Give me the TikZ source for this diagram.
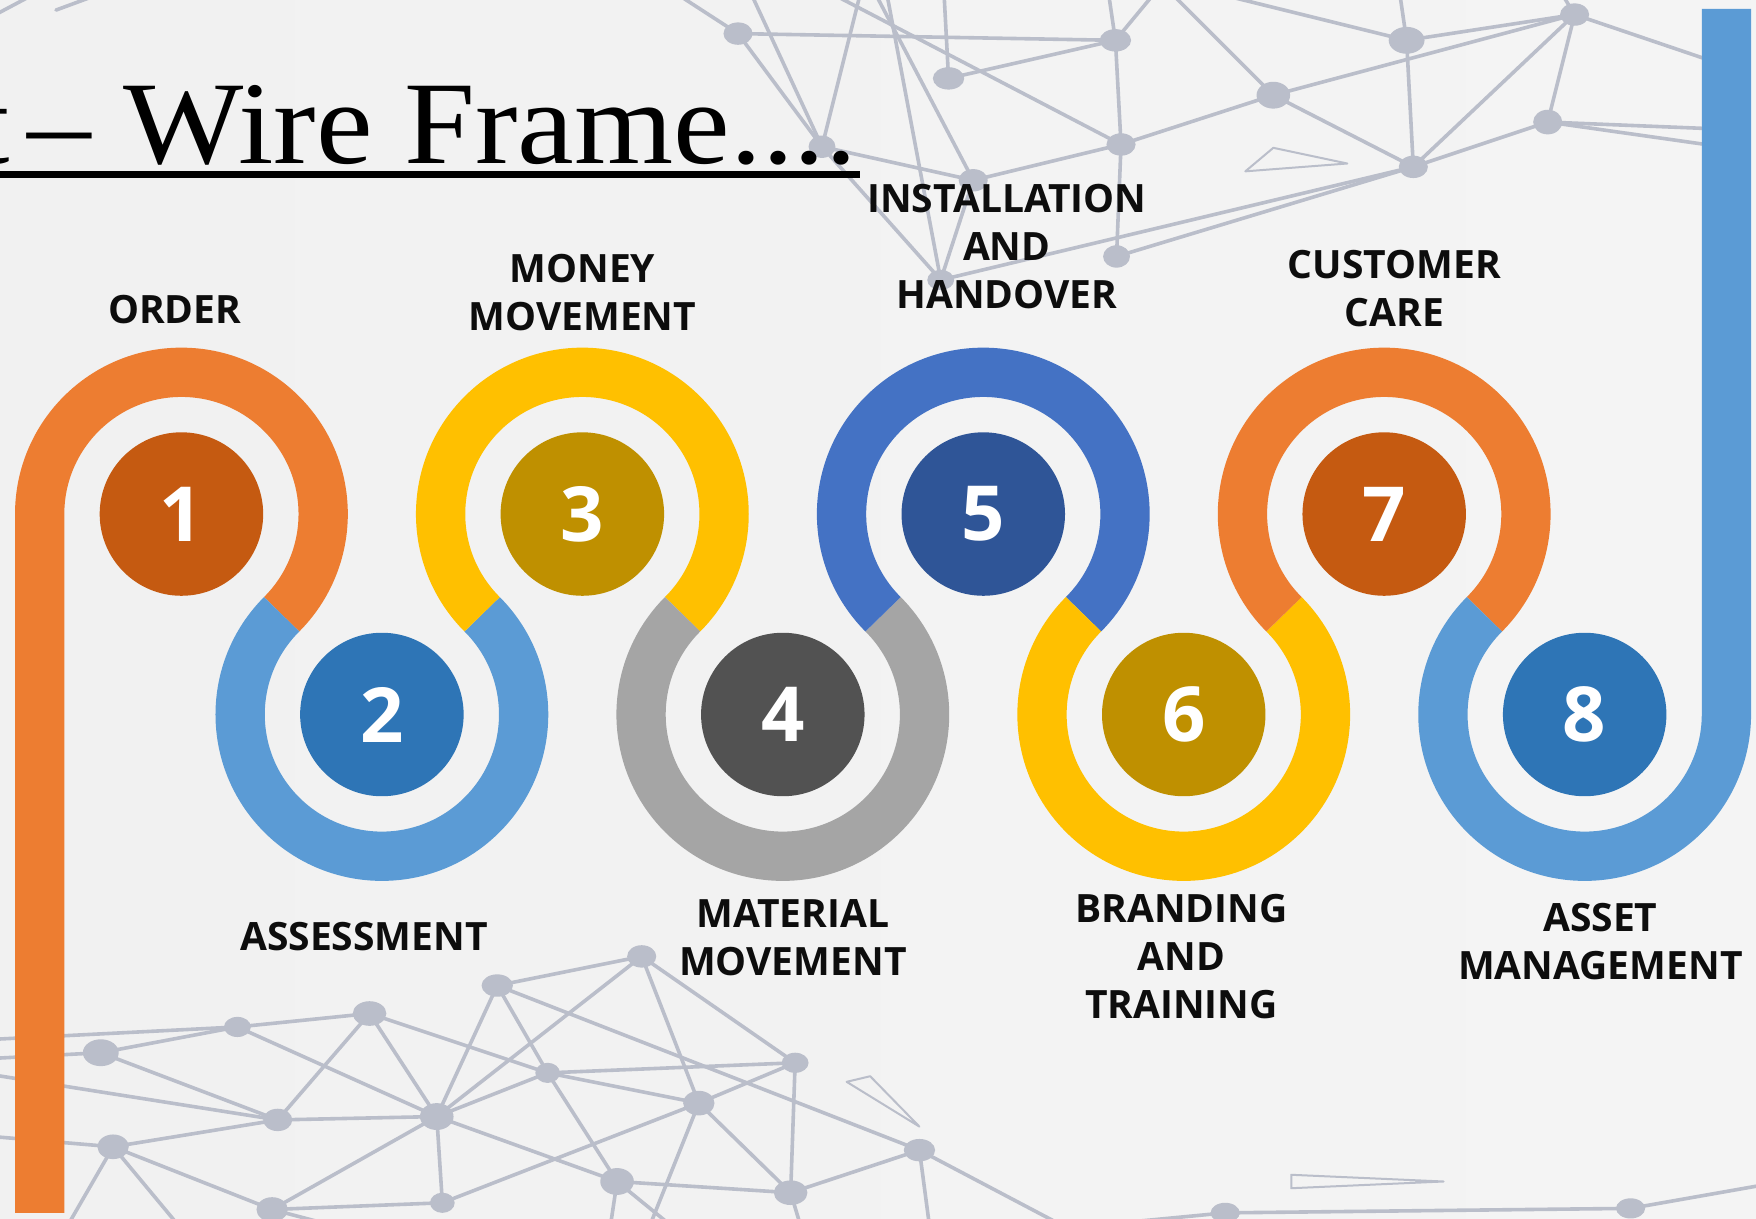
\documentclass[tikz,border=0pt]{standalone}
\usepackage{fontspec}
\setmainfont{Liberation Serif}
\newfontfamily\lblfont{Open Sans}
\usetikzlibrary{calc}
\definecolor{orng}{HTML}{ED7D31}
\definecolor{lblue}{HTML}{5B9BD5}
\definecolor{gold}{HTML}{FFC000}
\definecolor{lgray}{HTML}{A5A5A5}
\definecolor{mblue}{HTML}{4472C4}
\definecolor{dorng}{HTML}{C55A11}
\definecolor{dlblue}{HTML}{2E75B6}
\definecolor{dgold}{HTML}{BF9000}
\definecolor{dgray}{HTML}{525252}
\definecolor{dmblue}{HTML}{2F5597}
\definecolor{netc}{HTML}{BABECA}
\definecolor{bgl}{HTML}{F1F1F1}
\definecolor{bgm}{HTML}{F8F8F8}
\definecolor{bgr}{HTML}{F4F4F4}
\definecolor{txt}{HTML}{0D0D0D}
\begin{document}
\begin{tikzpicture}[x=1.12pt,y=1.12pt,
  net/.style={draw=netc, line width=3.6pt, line cap=round},
  netthin/.style={draw=netc, line width=2pt, line join=round},
  ring/.style={line width=49.3pt},
  num/.style={circle, minimum size=163.5pt, inner sep=0pt, text=white,
    font=\lblfont\bfseries\fontsize{76}{76}\selectfont},
  lbl/.style={align=center, inner sep=0pt, text=txt,
    font=\lblfont\bfseries\fontsize{39}{48}\selectfont},
]
\useasboundingbox (0,0) rectangle (1568,-1088);
\clip (0,0) rectangle (1568,-1088);
\shade[left color=bgl, middle color=bgm, right color=bgr] (0,0) rectangle (1568,-1088);

% ---------- background network ----------
\coordinate (T1) at (659,-30);
\coordinate (T2) at (847,-70);
\coordinate (T3) at (996,-36);
\coordinate (T4) at (1001,-129);
\coordinate (T5) at (734,-131);
\coordinate (T6) at (869,-161);
\coordinate (T7) at (997,-229);
\coordinate (T8) at (840,-250);
\coordinate (T9) at (1256,-36);
\coordinate (T10) at (1137,-85);
\coordinate (T11) at (1406,-13);
\coordinate (T12) at (1382,-109);
\coordinate (T13) at (1262,-149);
\coordinate (U1) at (605,5);
\coordinate (U2) at (671,5);
\coordinate (U3) at (768,5);
\coordinate (U4) at (744,5);
\coordinate (U5) at (843,5);
\coordinate (U6) at (782,5);
\coordinate (U7) at (792,5);
\coordinate (U8) at (990,5);
\coordinate (U9) at (1047,5);
\coordinate (U10) at (1090,5);
\coordinate (U11) at (1250,5);
\coordinate (U12) at (1395,5);
\coordinate (U13) at (1530,-55);
\coordinate (U14) at (1530,-115);
\coordinate (U15) at (1530,-130);
\coordinate (U16) at (1030,5);
\coordinate (K1) at (-2,-12);
\coordinate (K2) at (30,5);
\coordinate (K3) at (50,-9);
\coordinate (K4) at (88,5);

\coordinate (B1) at (90,-940);
\coordinate (B2) at (212,-917);
\coordinate (B3) at (330,-905);
\coordinate (B4) at (444,-880);
\coordinate (B5) at (489,-958);
\coordinate (B6) at (390,-997);
\coordinate (B7) at (248,-1000);
\coordinate (B8) at (101,-1024);
\coordinate (B9) at (243,-1080);
\coordinate (B10) at (395,-1074);
\coordinate (B11) at (573,-854);
\coordinate (B12) at (710,-949);
\coordinate (B13) at (624,-985);
\coordinate (B14) at (551,-1055);
\coordinate (B15) at (706,-1065);
\coordinate (B16) at (821,-1027);
\coordinate (B17) at (1094,-1083);
\coordinate (B18) at (1456,-1079);
\coordinate (V1) at (-5,-945);
\coordinate (V2) at (-5,-928);
\coordinate (V3) at (-5,-960);
\coordinate (V4) at (-5,-1015);
\coordinate (V5) at (60,-1095);
\coordinate (V6) at (580,-1095);
\coordinate (V7) at (545,-1095);
\coordinate (V8) at (600,-1095);
\coordinate (V9) at (715,-1095);
\coordinate (V10) at (830,-1095);
\coordinate (V11) at (950,-1095);
\coordinate (V12) at (1000,-1092);
\coordinate (V13) at (1575,-1058);
\coordinate (V14) at (300,-1095);
\coordinate (V15) at (160,-1095);

\foreach \a/\b in {T1/T3,T1/T5,T1/U1,T5/U2,T5/U3,U4/T4,T2/T3,T2/U5,U6/T6,U7/T8,
  T5/T6,T5/T8,T6/T4,T6/T8,T3/T4,T3/U8,T3/U16,T4/T7,T4/T10,T8/T13,T7/T13,
  U9/T10,U10/T9,T9/U11,T9/T11,T9/T13,T10/T11,T10/T13,T11/T12,T11/U12,T11/U13,
  T12/U14,T13/T12,T13/T11,T12/U15,K1/K2,K3/K4,
  B1/B2,B1/B7,B1/V1,B2/V2,B2/B3,B2/B6,B3/B7,B3/B6,B3/B5,B4/B6,B4/B5,B4/B11,B4/B16,
  B5/B6,B5/B12,B5/B13,B5/B14,B6/B7,B6/B10,B6/B9,B6/B11,B6/B14,B7/B8,V3/B7,
  B8/B9,B8/V4,B8/V5,B9/B10,B9/V14,B8/V15,B10/B13,B11/B12,B11/B13,B12/B13,B12/B15,
  B13/B15,B13/V6,B14/B15,B14/V7,B14/V8,B15/B16,B15/V9,B16/V10,B16/V11,
  B17/B18,B17/V12,B18/V13}
  \draw[net] (\a) -- (\b);

\foreach \p/\rx/\ry in {T1/13/10,T2/14/10,T3/14/10,T4/13/10,T5/12/10,T6/13/10,
  T7/12/10,T8/12/9,T9/16/12,T10/15/12,T11/13/10,T12/13/11,T13/13/10,
  B1/16/12,B2/12/9,B3/15/11,B4/14/10,B5/11/9,B6/15/12,B7/13/10,B8/14/11,
  B9/14/11,B10/11/9,B11/13/10,B12/12/9,B13/14/11,B14/15/12,B15/15/11,
  B16/14/10,B17/13/9,B18/13/9}
  \fill[netc] (\p) ellipse[x radius=\rx, y radius=\ry];

\coordinate (A1) at (1112,-153);
\coordinate (A2) at (1137,-132);
\coordinate (A3) at (1203,-146);
\draw[netthin] (A1) -- (A2) -- (A3) -- cycle;
\coordinate (A4) at (756,-966);
\coordinate (A5) at (777,-961);
\coordinate (A6) at (821,-1006);
\draw[netthin] (A4) -- (A5) -- (A6) -- cycle;
\coordinate (A7) at (1153,-1049);
\coordinate (A8) at (1153,-1061);
\coordinate (A9) at (1289,-1055);
\draw[netthin] (A7) -- (A8) -- (A9) -- cycle;

% ---------- title ----------
\node[anchor=base east, inner sep=0pt, xscale=1.08,
  font=\fontsize{118}{118}\selectfont] (title) at (766,-146) {t\hspace{16pt}– Wire Frame....};
\coordinate (ulA) at (-2,-156);
\coordinate (ulB) at (768,-156);
\draw[line width=6.5pt] (ulA) -- (ulB);

% ---------- ring centres ----------
\def\R{126.57}
\coordinate (c1) at (162,-459);
\coordinate (c2) at (341,-638);
\coordinate (c3) at (520,-459);
\coordinate (c4) at (699,-638);
\coordinate (c5) at (878,-459);
\coordinate (c6) at (1057,-638);
\coordinate (c7) at (1236,-459);
\coordinate (c8) at (1415,-638);
\coordinate (barL) at (35.43,-1083);
\coordinate (barR) at (1541.57,-8);

\draw[ring, draw=orng] (barL) -- ($(c1)+(180:\R)$) arc[start angle=180, end angle=-45, radius=\R];
\draw[ring, draw=lblue] ($(c2)+(135:\R)$) arc[start angle=135, end angle=405, radius=\R];
\draw[ring, draw=gold] ($(c3)+(225:\R)$) arc[start angle=225, end angle=-45, radius=\R];
\draw[ring, draw=lgray] ($(c4)+(135:\R)$) arc[start angle=135, end angle=405, radius=\R];
\draw[ring, draw=mblue] ($(c5)+(225:\R)$) arc[start angle=225, end angle=-45, radius=\R];
\draw[ring, draw=gold] ($(c6)+(135:\R)$) arc[start angle=135, end angle=405, radius=\R];
\draw[ring, draw=orng] ($(c7)+(225:\R)$) arc[start angle=225, end angle=-45, radius=\R];
\draw[ring, draw=lblue] ($(c8)+(135:\R)$) arc[start angle=135, end angle=360, radius=\R] -- (barR);

% ---------- numbered circles ----------
\node[num, fill=dorng] (n1) at (c1) {1};
\node[num, fill=dlblue] (n2) at (c2) {2};
\node[num, fill=dgold] (n3) at (c3) {3};
\node[num, fill=dgray] (n4) at (c4) {4};
\node[num, fill=dmblue] (n5) at (c5) {5};
\node[num, fill=dgold] (n6) at (c6) {6};
\node[num, fill=dorng] (n7) at (c7) {7};
\node[num, fill=dlblue] (n8) at (c8) {8};

% ---------- labels ----------
\node[lbl] (l1) at (156,-276) {ORDER};
\node[lbl] (l2) at (325,-836) {ASSESSMENT};
\node[lbl] (l3) at (520,-261.5) {MONEY\\MOVEMENT};
\node[lbl] (l4) at (708,-837) {MATERIAL\\MOVEMENT};
\node[lbl] (l5) at (899,-220) {INSTALLATION\\AND\\HANDOVER};
\node[lbl] (l6) at (1055,-854) {BRANDING\\AND\\TRAINING};
\node[lbl] (l7) at (1245,-258) {CUSTOMER\\CARE};
\node[lbl] (l8) at (1429,-840.5) {ASSET\\MANAGEMENT};
\end{tikzpicture}
\end{document}
